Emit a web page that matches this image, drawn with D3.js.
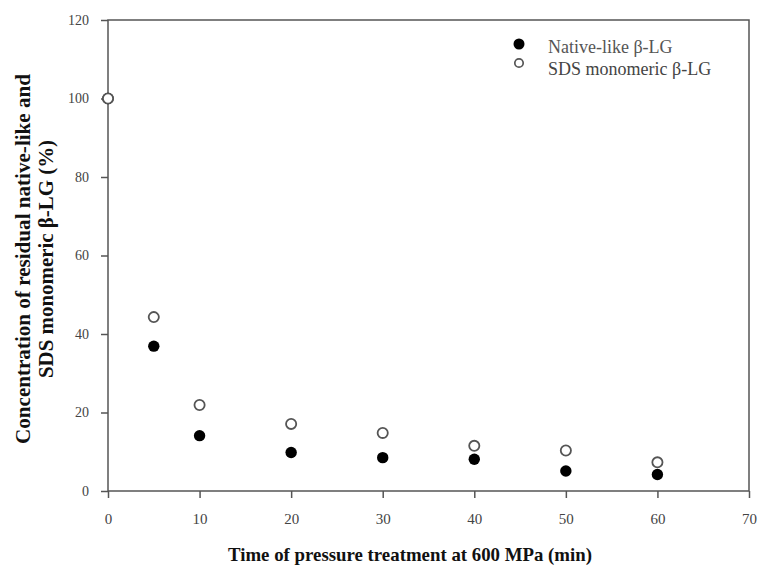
<!DOCTYPE html>
<html><head><meta charset="utf-8">
<script src="https://cdn.jsdelivr.net/npm/d3@7"></script>
<style>body{margin:0;background:#fff}svg{display:block}</style>
</head><body>
<svg id="c" width="759" height="569"></svg>
<script>
const times = [0, 5, 10, 20, 30, 40, 50, 60];
const nativeLike = [100, 36.9, 14.1, 9.8, 8.5, 8.1, 5.1, 4.2];
const sdsMonomeric = [100, 44.3, 21.9, 17.1, 14.8, 11.5, 10.3, 7.3];
const xTicks = [0, 10, 20, 30, 40, 50, 60, 70];
const yTicks = [0, 20, 40, 60, 80, 100, 120];
const seriesNames = ["Native-like β-LG", "SDS monomeric β-LG"];

const svg = d3.select("#c");
const L = 108, R = 749, T = 20, B = 491;
const x = d3.scaleLinear().domain([0, 70]).range([L, R]);
const y = d3.scaleLinear().domain([0, 120]).range([B, T]);
const axCol = "#555";
const serif = "'Liberation Serif','DejaVu Serif',serif";

// frame
svg.append("rect").attr("x", L).attr("y", T).attr("width", R - L).attr("height", B - T)
  .attr("fill", "none").attr("stroke", axCol).attr("stroke-width", 1.5);

const xa = svg.append("g").attr("transform", `translate(0,${B})`)
  .call(d3.axisBottom(x).tickValues(xTicks).tickSize(7).tickPadding(15));
const ya = svg.append("g").attr("transform", `translate(${L},0)`)
  .call(d3.axisLeft(y).tickValues(yTicks).tickSize(7).tickPadding(12));
[xa, ya].forEach(g => {
  g.select(".domain").remove();
  g.selectAll("line").attr("stroke", axCol).attr("stroke-width", 1.5);
  g.selectAll("text").attr("font-family", serif).attr("fill", "#444");
});
xa.selectAll("text").attr("font-size", 15);
ya.selectAll("text").attr("font-size", 14);

// points
const dNat = times.map((t, i) => ({t, v: nativeLike[i]}));
const dSds = times.map((t, i) => ({t, v: sdsMonomeric[i]}));
svg.append("g").selectAll("circle").data(dNat).join("circle")
  .attr("cx", d => x(d.t)).attr("cy", d => y(d.v)).attr("r", 5.7).attr("fill", "#000");
svg.append("g").selectAll("circle").data(dSds).join("circle")
  .attr("cx", d => x(d.t)).attr("cy", d => y(d.v)).attr("r", 5.1)
  .attr("fill", "#fff").attr("stroke", "#555").attr("stroke-width", 1.8);

// legend
const lg = svg.append("g");
lg.append("circle").attr("cx", 519).attr("cy", 44).attr("r", 5.5).attr("fill", "#000");
lg.append("circle").attr("cx", 519).attr("cy", 63).attr("r", 4.2).attr("fill", "#fff")
  .attr("stroke", "#555").attr("stroke-width", 1.7);
lg.selectAll("text").data(seriesNames).join("text")
  .attr("x", 548).attr("y", (d, i) => 53 + i * 22)
  .attr("font-family", serif).attr("font-size", 18).attr("fill", (d, i) => i ? "#444" : "#555").text(d => d);

// axis titles
svg.append("text").attr("x", 410).attr("y", 561).attr("text-anchor", "middle")
  .attr("font-family", serif).attr("font-weight", "bold").attr("font-size", 19).attr("fill", "#111")
  .attr("textLength", 364).attr("lengthAdjust", "spacingAndGlyphs")
  .text("Time of pressure treatment at 600 MPa (min)");
const yt = svg.append("text").attr("transform", "translate(30,259) rotate(-90)")
  .attr("text-anchor", "middle").attr("font-family", serif).attr("font-weight", "bold")
  .attr("font-size", 20).attr("fill", "#111");
yt.append("tspan").attr("x", 0).attr("dy", 0).attr("textLength", 370).attr("lengthAdjust", "spacingAndGlyphs")
  .text("Concentration of residual native-like and");
yt.append("tspan").attr("x", 0).attr("dy", 23).attr("textLength", 238).attr("lengthAdjust", "spacingAndGlyphs")
  .text("SDS monomeric β-LG (%)");
</script>
</body></html>
